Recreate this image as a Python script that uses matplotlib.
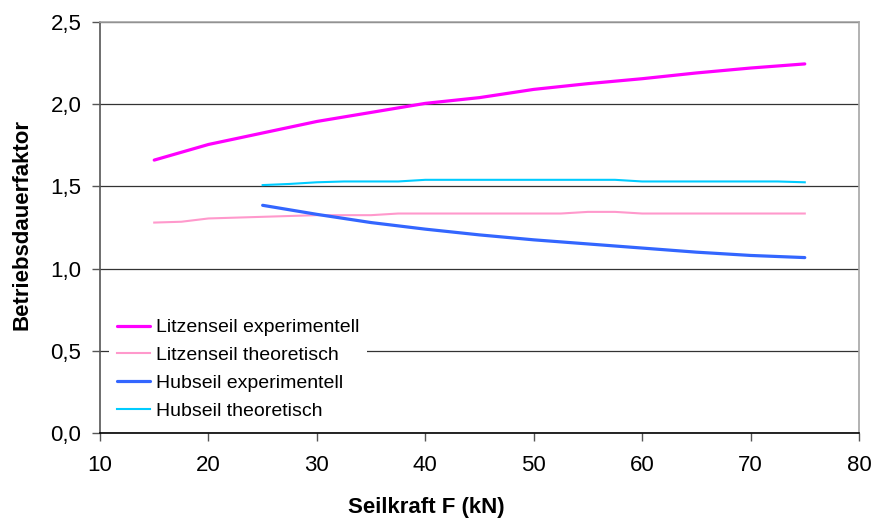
import matplotlib.pyplot as plt
from matplotlib.ticker import FuncFormatter

plt.rcParams['font.family'] = ['Liberation Sans', 'DejaVu Sans']

# ── Data ──────────────────────────────────────────────────────────────────────
x_exp = [15, 20, 25, 30, 35, 40, 45, 50, 55, 60, 65, 70, 75]
litzen_exp = [1.66, 1.755, 1.825, 1.895, 1.95, 2.005, 2.04, 2.09, 2.125, 2.155, 2.19, 2.22, 2.245]

x_litzen_th = [15, 17.5, 20, 22.5, 25, 27.5, 30, 32.5, 35, 37.5, 40, 42.5, 45, 47.5,
               50, 52.5, 55, 57.5, 60, 62.5, 65, 67.5, 70, 72.5, 75]
litzen_th = [1.28, 1.285, 1.305, 1.31, 1.315, 1.32, 1.325, 1.325, 1.325, 1.335, 1.335, 1.335,
             1.335, 1.335, 1.335, 1.335, 1.345, 1.345, 1.335, 1.335, 1.335, 1.335, 1.335,
             1.335, 1.335]

x_hub_exp = [25, 30, 35, 40, 45, 50, 55, 60, 65, 70, 75]
hub_exp = [1.385, 1.33, 1.28, 1.24, 1.205, 1.175, 1.15, 1.125, 1.10, 1.08, 1.067]

x_hub_th = [25, 27.5, 30, 32.5, 35, 37.5, 40, 42.5, 45, 47.5, 50, 52.5, 55, 57.5,
            60, 62.5, 65, 67.5, 70, 72.5, 75]
hub_th = [1.508, 1.515, 1.525, 1.53, 1.53, 1.53, 1.54, 1.54, 1.54, 1.54, 1.54, 1.54,
          1.54, 1.54, 1.53, 1.53, 1.53, 1.53, 1.53, 1.53, 1.525]

MAGENTA = "#FF00FF"
PINK = "#FF99CC"
BLUE = "#3366FF"
CYAN = "#00CCFF"

fig = plt.figure(figsize=(8.75, 5.2), dpi=100)
ax = fig.add_axes([0.1143, 0.1673, 0.8674, 0.7904])

ax.plot(x_exp, litzen_exp, color=MAGENTA, lw=2.3, label="Litzenseil experimentell",
        solid_capstyle="round", zorder=3)
ax.plot(x_litzen_th, litzen_th, color=PINK, lw=1.5, label="Litzenseil theoretisch", zorder=3)
ax.plot(x_hub_exp, hub_exp, color=BLUE, lw=2.3, label="Hubseil experimentell",
        solid_capstyle="round", zorder=3)
ax.plot(x_hub_th, hub_th, color=CYAN, lw=1.5, label="Hubseil theoretisch", zorder=3)

ax.set_xlim(10, 80)
ax.set_ylim(0, 2.5)
ax.set_xticks(range(10, 81, 10))
ax.set_yticks([0, 0.5, 1.0, 1.5, 2.0, 2.5])
ax.yaxis.set_major_formatter(FuncFormatter(lambda v, p: f"{v:.1f}".replace(".", ",")))
ax.tick_params(labelsize=16, direction="out", length=5.5, width=1, color="#555555")
ax.tick_params(axis="y", pad=8)
ax.tick_params(axis="x", pad=10)

ax.grid(axis="y", color="#333333", lw=0.9, zorder=0)
ax.set_axisbelow(True)
ax.spines["top"].set_color("#A6A6A6")
ax.spines["right"].set_color("#A6A6A6")
ax.spines["left"].set_color("#555555")
ax.spines["bottom"].set_color("#000000")
for s in ax.spines.values():
    s.set_linewidth(1.2)

fig.text(426 / 875, 1 - 508 / 520, "Seilkraft F (kN)", fontsize=16, fontweight="bold",
         ha="center", va="center")
fig.text(22 / 875, 1 - 225 / 520, "Betriebsdauerfaktor", fontsize=16, fontweight="bold",
         ha="center", va="center", rotation=90)

leg = ax.legend(loc="lower left", bbox_to_anchor=(-0.001, -0.01), fontsize=14,
                frameon=True, framealpha=1, edgecolor="none", facecolor="white",
                handlelength=1.7, handletextpad=0.3, labelspacing=0.52,
                borderpad=0.4, fancybox=False)
leg.set_zorder(4)

fig.savefig("out.png", dpi=100, facecolor="white")
